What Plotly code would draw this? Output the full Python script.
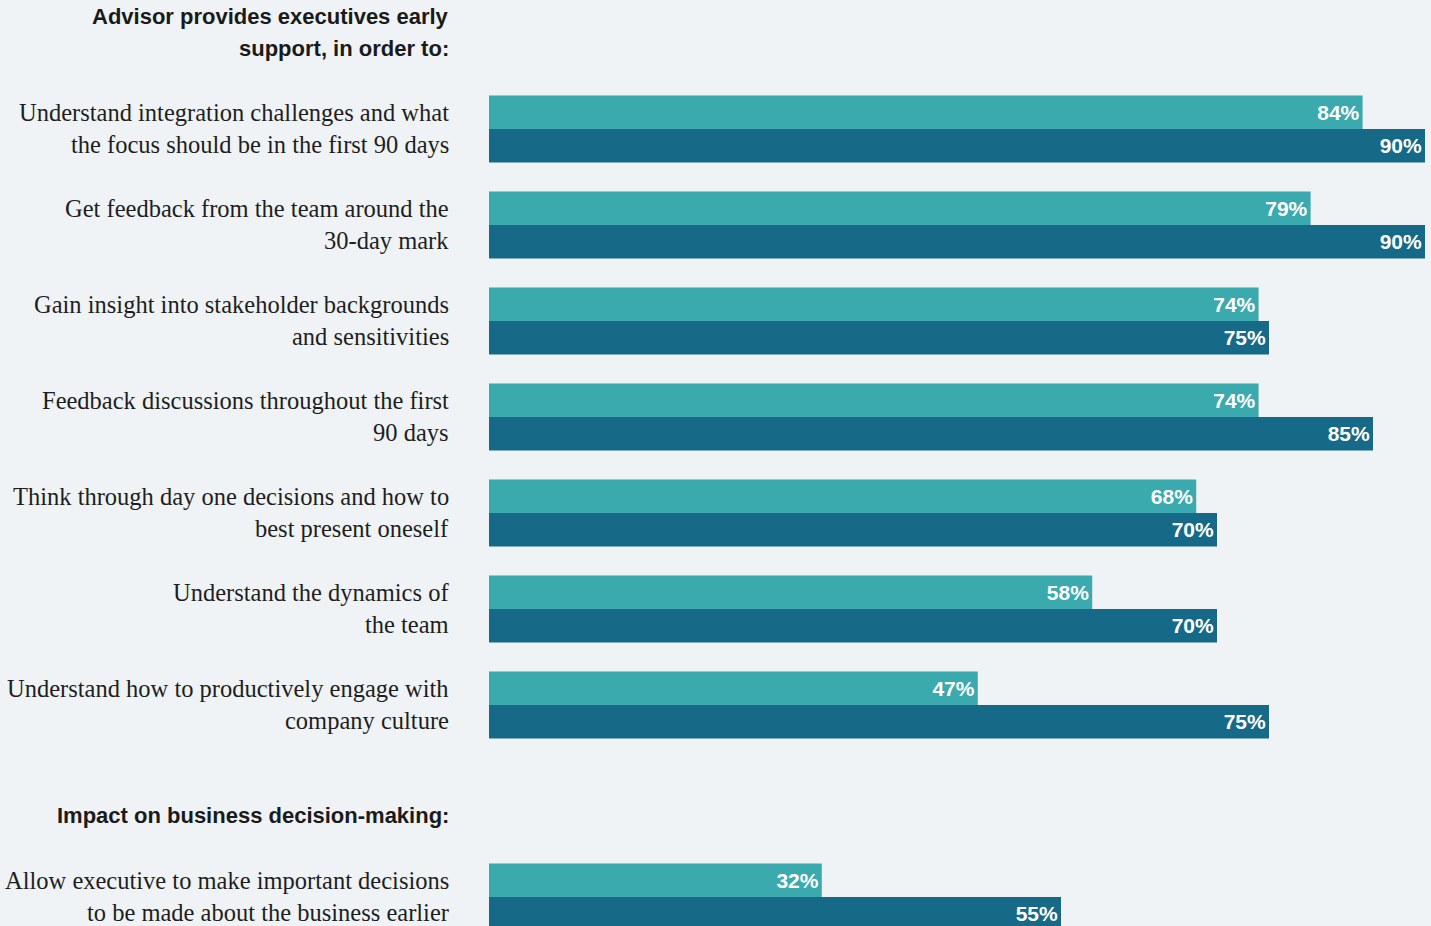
import plotly.graph_objects as go

# ---- data ----
categories = [
    "Understand integration challenges and what<br>the focus should be in the first 90 days",
    "Get feedback from the team around the<br>30-day mark",
    "Gain insight into stakeholder backgrounds<br>and sensitivities",
    "Feedback discussions throughout the first<br>90 days",
    "Think through day one decisions and how to<br>best present oneself",
    "Understand the dynamics of<br>the team",
    "Understand how to productively engage with<br>company culture",
    "Allow executive to make important decisions<br>to be made about the business earlier",
]
section = [1, 1, 1, 1, 1, 1, 1, 2]
series_a = [84, 79, 74, 74, 68, 58, 47, 32]
series_b = [90, 90, 75, 85, 70, 70, 75, 55]
headers = {
    1: "Advisor provides executives early<br>support, in order to:",
    2: "Impact on business decision-making:",
}

# ---- layout helpers ----
W, H = 1431, 926
PLOT_LEFT = 489
PX_PER_PCT = 10.4
SLOT_PX = 96.0
SLOT0_PX = 129.0
LABEL_X_PX = 451

# slot positions: a blank slot before each new section (after the first)
slots = []
s = 0
prev = section[0]
for sec in section:
    if sec != prev:
        s += 1
        prev = sec
    slots.append(s)
    s += 1

def px_to_slot(py):
    return (py - SLOT0_PX) / SLOT_PX

teal = "#3BAAAE"
navy = "#176A87"
bg = "#EFF3F6"
bw = 0.35

valfont = dict(family="Liberation Sans, Arial", size=21, color="white", weight="bold")

fig = go.Figure()
fig.add_trace(go.Bar(
    y=slots, x=series_a, orientation="h", marker_color=teal, marker_line_width=0,
    width=bw, offset=-bw, texttemplate="%{x}%", textposition="inside",
    insidetextanchor="end", showlegend=False, textfont=valfont,
))
fig.add_trace(go.Bar(
    y=slots, x=series_b, orientation="h", marker_color=navy, marker_line_width=0,
    width=bw, offset=0, texttemplate="%{x}%", textposition="inside",
    insidetextanchor="end", showlegend=False, textfont=valfont,
))

plot_w = W - PLOT_LEFT
label_x = (LABEL_X_PX - PLOT_LEFT) / plot_w
annotations = []
for cat, sl in zip(categories, slots):
    lines = cat.split("<br>")
    n = len(lines)
    for k, ln in enumerate(lines):
        annotations.append(dict(
            x=label_x, xref="paper", y=sl, yref="y", text=ln, showarrow=False,
            xanchor="right", yanchor="middle", yshift=1 + 16 * (n - 1) - 32 * k,
            font=dict(family="Liberation Serif, Times New Roman, serif", size=24.5, color="#1e1e1e"),
        ))

header_px = {1: 33, 2: 816}
for sec, txt in headers.items():
    lines = txt.split("<br>")
    n = len(lines)
    for k, ln in enumerate(lines):
        annotations.append(dict(
            x=label_x, xref="paper", y=px_to_slot(header_px[sec]), yref="y", text=ln,
            showarrow=False, xanchor="right", yanchor="middle",
            yshift=1 + 16 * (n - 1) - 32 * k,
            font=dict(family="Liberation Sans, Arial", size=22, color="#1a1a1a", weight="bold"),
        ))

fig.update_layout(
    width=W, height=H,
    margin=dict(l=PLOT_LEFT, r=0, t=0, b=0, pad=0),
    paper_bgcolor=bg, plot_bgcolor=bg,
    barmode="overlay",
    xaxis=dict(range=[0, plot_w / PX_PER_PCT], visible=False, fixedrange=True),
    yaxis=dict(range=[px_to_slot(H), px_to_slot(0)], visible=False, fixedrange=True),
    annotations=annotations,
    uniformtext=dict(mode=False),
)

fig.write_html("out.html", config={"displayModeBar": False})
